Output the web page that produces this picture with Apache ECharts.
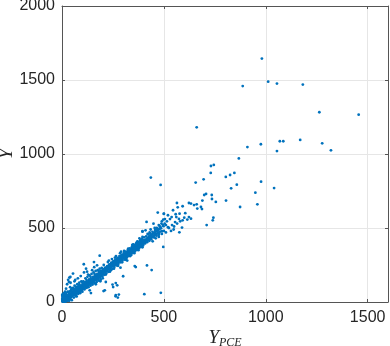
<!DOCTYPE html>
<html>
<head>
<meta charset="utf-8">
<script src="https://cdn.jsdelivr.net/npm/echarts@6/dist/echarts.min.js"></script>
<style>
  html, body { margin: 0; padding: 0; background: #fff; }
  #chart { width: 390px; height: 346px; }
</style>
</head>
<body>
<div id="chart"></div>
<script>
// axis ticks
var xTicks = [0, 500, 1000, 1500]
var yTicks = [0, 500, 1000, 1500, 2000]

// points, [Y_PCE, Y]
var originBlob = [
  [2,5],[3,12],[1,20],[4,28],[2,35],[5,8],[6,2],[8,15],[7,22],[9,4],[10,12],[11,30],[12,18],[13,7],[14,25],
  [15,40],[16,14],[17,20],[18,3],[19,28],[20,22],[21,35],[22,10],[23,26],[24,18],[25,32],[26,40],[27,24],
  [28,15],[29,36],[30,30],[31,44],[32,22],[33,38],[34,50],[35,28],[36,42],[37,34],[38,46],[39,20],[40,40],
  [41,52],[42,36],[43,48],[44,30],[45,55],[46,44],[47,60],[48,38],[49,52],[50,48],[3,42],[1,48],[5,55],
  [8,40],[10,2],[14,5],[20,6],[25,9],[30,12],[35,8],[4,16],[6,30],[12,45],[18,52],[22,62],[28,70],[33,66],
  [38,72],[44,80],[47,92],[42,130],[36,165],[30,150],[25,120],[40,100],[20,90],[15,70],[10,60],[48,12]
]

var lowBand = [
  [50,58],[51,44],[52,62],[53,50],[54,70],[55,52],[56,60],[57,45],[58,66],[59,55],[60,72],[61,58],[62,64],
  [63,48],[64,75],[65,62],[66,70],[67,56],[68,80],[69,66],[70,74],[71,60],[72,84],[73,70],[74,78],[75,64],
  [76,88],[77,72],[78,80],[79,68],[80,92],[81,76],[82,86],[83,70],[84,96],[85,82],[86,90],[87,76],[88,100],
  [89,86],[90,94],[91,80],[92,104],[93,88],[94,98],[95,84],[96,108],[97,92],[98,102],[99,88],[100,110],
  [55,95],[62,110],[68,40],[75,120],[80,55],[85,130],[90,60],[95,140],[58,30],[72,38],[88,62],[65,150],
  [78,160],[92,175],[100,70],[54,85],[70,102],[84,115],[41,169],[54,192],[61,140],[34,135]
]

var midBand = [
  [101,104],[102,96],[103,112],[105,100],[106,118],[107,106],[108,98],[110,116],[111,108],[112,122],
  [113,104],[115,118],[116,126],[117,110],[118,120],[120,130],[121,114],[122,124],[124,118],[125,134],
  [126,122],[127,128],[129,116],[130,138],[131,126],[132,132],[134,124],[135,142],[136,130],[137,136],
  [139,128],[140,146],[141,134],[142,140],[144,132],[145,150],[146,138],[147,144],[149,136],[150,154],
  [151,142],[152,158],[153,146],[155,152],[156,162],[157,148],[158,156],[160,166],[161,152],[162,160],
  [164,154],[165,170],[166,158],[167,164],[169,156],[170,176],[171,162],[172,170],[174,164],[175,180],
  [176,168],[177,174],[179,166],[180,186],[181,172],[182,180],[184,174],[185,192],[186,178],[187,184],
  [189,176],[190,196],[191,182],[192,190],[194,184],[195,200],[196,188],[197,194],[199,186],[200,206],
  [105,140],[110,85],[115,160],[120,95],[125,170],[130,100],[135,180],[140,110],[145,190],[150,118],
  [155,200],[160,128],[165,210],[170,135],[175,215],[180,145],[185,225],[190,150],[195,230],[200,160],
  [108,200],[118,225],[136,79],[142,60],[128,185],[148,215],[158,235],[172,248],[185,313],[107,255],
  [157,270],[123,205],[166,120],[188,140]
]

var upperBand = [
  [201,194],[202,210],[204,200],[205,214],[206,204],[208,218],[209,202],[210,220],[212,208],[213,224],
  [214,212],[216,226],[217,214],[218,230],[220,216],[221,232],[222,222],[224,236],[225,220],[226,238],
  [228,226],[229,242],[230,232],[232,244],[233,230],[234,248],[236,236],[237,250],[238,240],[240,254],
  [241,238],[242,256],[244,246],[245,260],[246,244],[248,262],[249,250],[250,266],[252,254],[253,268],
  [254,256],[256,270],[257,258],[258,274],[260,262],[261,276],[262,264],[264,280],[265,266],[266,282],
  [268,270],[269,286],[270,274],[272,288],[273,276],[274,292],[276,280],[277,294],[278,284],[280,296],
  [281,284],[282,300],[284,290],[285,302],[286,292],[288,306],[289,294],[290,308],[292,298],[293,310],
  [294,300],[296,312],[297,302],[298,316],[300,306],
  [205,250],[215,185],[225,270],[235,205],[245,290],[255,225],[265,310],[275,245],[285,330],[295,268],
  [210,79],[204,74],[215,135],[248,118],[264,128],[251,101],[271,113],[264,47],[279,50],[274,30],[263,39],
  [287,232],[300,174],[230,280],[260,300],[290,340],[240,215],[270,250]
]

var topBand = [
  [302,296],[304,312],[306,300],[308,316],[310,304],[312,322],[314,308],[316,326],[318,312],[320,330],
  [322,318],[324,334],[326,322],[328,338],[330,326],[332,342],[334,330],[336,346],[338,334],[340,350],
  [342,338],[344,354],[346,342],[348,358],[350,346],[352,362],[354,350],[356,368],[358,354],[360,372],
  [362,358],[364,376],[366,362],[368,380],[370,366],[372,384],[374,370],[376,388],[378,374],[380,392],
  [382,378],[384,396],[386,382],[388,400],[390,386],[392,404],[394,390],[396,408],[398,394],[400,412],
  [305,345],[315,290],[325,360],[335,310],[345,385],[355,330],[365,400],[375,350],[385,420],[395,370],
  [362,236],[357,243],[320,280],[340,318],[380,430],[395,440],[350,390],[330,355],[370,410],[310,285],
  [402,400],[404,416],[407,404],[410,420],[412,408],[415,426],[418,414],[420,432],[423,418],[426,438],
  [428,424],[431,444],[434,430],[436,450],[439,436],[442,456],[445,442],[448,462],[450,446],[453,468],
  [456,452],[459,474],[462,458],[465,480],[468,464],[471,486],[474,470],[478,492],[482,476],[486,498],
  [415,541],[410,484],[449,529],[470,604],[497,372],[485,62],[404,53],[417,247],[440,216],
  [430,470],[455,500],[460,430],[475,440],[480,510],[490,460],[495,520],[500,480],[420,460],[445,410],
  [465,500],[488,530],[500,595],[505,560],[395,475],[435,490]
]

var coreLine = [
  [3,7],[5,3],[8,11],[11,9],[13,17],[16,13],[19,22],[22,19],[24,29],[27,24],[31,35],[34,31],[36,41],
  [40,37],[43,47],[45,41],[49,55],[52,49],[55,61],[57,53],[61,67],[64,60],[67,73],[70,66],[72,79],[76,72],
  [79,85],[82,77],[85,92],[88,83],[91,97],[94,89],[97,104],[100,95],[103,110],[106,101],[109,116],[112,107],
  [115,122],[118,113],[121,128],[124,119],[127,134],[130,125],[133,141],[136,131],[139,146],[142,137],
  [145,152],[148,143],[151,159],[154,149],[157,165],[160,155],[163,171],[166,161],[169,177],[172,167],
  [175,183],[178,173],[181,190],[184,179],[187,195],[190,185],[193,201],[196,191],[199,208],[202,197],
  [205,213],[208,203],[211,220],[214,209],[217,226],[220,215],[223,232],[226,221],[229,239],[232,227],
  [235,245],[238,233],[241,251],[244,239],[247,258],[250,245],[253,264],[256,251],[259,270],[262,257],
  [265,277],[268,263],[271,283],[274,269],[277,289],[280,275],[283,296],[286,281],[289,302],[292,287],
  [295,308],[298,293],[301,315],[304,299],[307,321],[310,305],[313,327],[316,311],[319,334],[322,317],
  [325,340],[328,323],[331,346],[334,329],[337,353],[340,335],[343,359],[346,341],[349,365],[352,347],
  [355,372],[358,353],[361,378],[364,359],[367,384],[370,365],[373,391],[376,371],[379,397],[382,377],
  [385,403],[388,383],[391,410],[394,389],[397,416],[400,395]
]

var bandFill = [
  [58,78],[63,84],[67,47],[73,92],[77,58],[82,100],[86,68],[93,112],[97,78],[104,124],[109,90],[114,134],
  [119,98],[123,140],[128,108],[133,152],[138,118],[143,158],[148,126],[153,170],[157,134],[163,180],
  [168,146],[173,190],[178,154],[183,200],[188,162],[193,212],[198,172],[203,222],[207,184],[212,232],
  [217,194],[222,242],[227,204],[232,254],[237,214],[242,266],[247,224],[252,276],[257,236],[262,286],
  [267,248],[272,298],[277,258],[282,310],[287,268],[292,318],[297,280],[303,330],[308,290],[313,340],
  [318,300],[323,352],[328,310],[333,362],[338,320],[343,372],[348,332],[353,384],[358,342],[363,392],
  [368,352],[373,404],[378,362],[383,414],[388,372],[393,426],[398,382],[403,436],[408,396],[413,444],
  [418,404],[424,456],[429,414],[433,462],[438,424],[444,474],[451,436],[457,486],[463,448],[469,496],
  [476,460],[483,506],[491,478],[498,512],[120,150],[140,170],[160,190],[180,210],[100,130],[80,105],
  [65,90],[45,70],[35,55],[25,45],[15,30],[8,25]
]

var spread = [
  [504,530],[497,557],[500,597],[520,586],[538,574],[545,620],[558,593],[561,574],[564,669],[568,640],
  [574,561],[577,597],[589,503],[576,471],[592,552],[592,647],[600,570],[615,557],[623,574],[623,669],
  [633,563],[633,665],[474,449],[395,478],[510,470],[525,500],[540,520],[555,540],[515,545],[530,560],
  [548,490],[565,530],[580,545],[605,600],[520,505],[535,480],[550,510],[510,520],[490,545],[475,520],
  [470,490],[460,480],
  [648,655],[656,807],[661,660],[664,631],[682,642],[687,628],[689,685],[695,829],[698,723],[707,730],
  [710,520],[730,872],[731,919],[735,723],[736,696],[740,552],[743,570],[745,926],[755,676],[661,1180]
]

var outliers = [
  [804,845],[825,858],[846,872],[858,793],[830,768],[868,970],[874,642],[805,685],[887,1459],[910,1047],
  [949,739],[959,660],[977,813],[1041,770],[976,1066],[981,1645],[1012,1489],[1055,1476],[1182,1469],
  [1263,1282],[1456,1266],[1055,1020],[1069,1086],[1086,1086],[1169,1095],[1277,1072],[1320,1025],
  [436,841],[484,791]
]

var allPoints = [].concat(originBlob, lowBand, midBand, upperBand, topBand, coreLine, bandFill, spread, outliers)

var chart = echarts.init(document.getElementById('chart'))

var axisColor = '#555555'
var textColor = '#262626'
var labelFont = 'Liberation Sans, Arial, sans-serif'
var nameFont = 'Liberation Serif, Times New Roman, serif'

function plain(v) {
  return String(v)
}

var option = {
  animation: false,
  backgroundColor: '#fff',
  grid: {
    left: 62,
    right: 2,
    top: 6,
    bottom: 44,
    containLabel: false,
    outerBoundsMode: 'none'
  },
  xAxis: [{
    type: 'value',
    min: 0,
    max: 1600,
    interval: 500,
    name: '{y|Y}{s|PCE}',
    nameLocation: 'middle',
    nameGap: 26,
    nameMoveOverlap: false,
    nameTextStyle: {
      verticalAlign: 'top',
      rich: {
        y: { fontFamily: nameFont, fontStyle: 'italic', fontSize: 19, color: textColor, verticalAlign: 'top' },
        s: { fontFamily: nameFont, fontStyle: 'italic', fontSize: 12, color: textColor, verticalAlign: 'top', padding: [9, 0, 0, 0] }
      }
    },
    axisLine: { show: true, onZero: false, lineStyle: { color: axisColor, width: 1 } },
    axisTick: { show: true, inside: true, length: 3, lineStyle: { color: axisColor } },
    axisLabel: {
      show: true,
      margin: 8,
      showMaxLabel: false,
      color: textColor,
      fontFamily: labelFont,
      fontSize: 16,
      formatter: plain
    },
    splitLine: { show: true, lineStyle: { color: '#e6e6e6', width: 1 } }
  }, {
    type: 'value',
    position: 'top',
    min: 0,
    max: 1600,
    interval: 500,
    axisLine: { show: true, onZero: false, lineStyle: { color: axisColor, width: 1 } },
    axisTick: { show: true, inside: true, length: 3, lineStyle: { color: axisColor } },
    axisLabel: { show: false },
    splitLine: { show: false }
  }],
  yAxis: [{
    type: 'value',
    min: 0,
    max: 2000,
    interval: 500,
    name: 'Y',
    nameLocation: 'middle',
    nameGap: 46,
    nameMoveOverlap: false,
    nameTextStyle: {
      fontFamily: nameFont,
      fontStyle: 'italic',
      fontSize: 19,
      color: textColor
    },
    axisLine: { show: true, onZero: false, lineStyle: { color: axisColor, width: 1 } },
    axisTick: { show: true, inside: true, length: 3, lineStyle: { color: axisColor } },
    axisLabel: {
      show: true,
      margin: 7,
      color: textColor,
      fontFamily: labelFont,
      fontSize: 16,
      formatter: plain
    },
    splitLine: { show: true, lineStyle: { color: '#e6e6e6', width: 1 } }
  }, {
    type: 'value',
    position: 'right',
    min: 0,
    max: 2000,
    interval: 500,
    axisLine: { show: true, onZero: false, lineStyle: { color: axisColor, width: 1 } },
    axisTick: { show: true, inside: true, length: 3, lineStyle: { color: axisColor } },
    axisLabel: { show: false },
    splitLine: { show: false }
  }],
  series: [{
    type: 'scatter',
    xAxisIndex: 0,
    yAxisIndex: 0,
    symbol: 'circle',
    symbolSize: 2.8,
    itemStyle: { color: '#0072BD', opacity: 1 },
    data: allPoints
  }]
}

chart.setOption(option)
</script>
</body>
</html>
